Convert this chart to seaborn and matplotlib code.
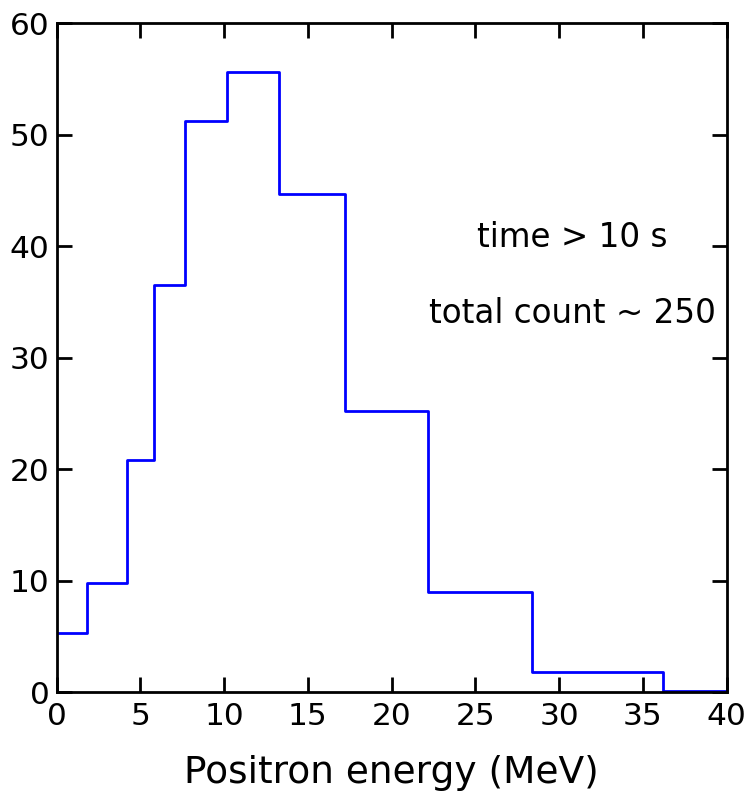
import matplotlib
matplotlib.use("Agg")
import matplotlib.pyplot as plt
import seaborn as sns
import numpy as np
import pandas as pd

# Data
bin_edges = [0.0, 1.79, 4.21, 5.83, 7.69, 10.15, 13.27, 17.21, 22.18, 28.38, 36.22, 40.0]
counts = [5.3, 9.8, 20.8, 36.5, 51.2, 55.6, 44.7, 25.2, 9.0, 1.8, 0.15]
annotations = ["time > 10 s", "total count ~ 250"]
x_label = "Positron energy (MeV)"
x_ticks = [0, 5, 10, 15, 20, 25, 30, 35, 40]
y_ticks = [0, 10, 20, 30, 40, 50, 60]

sns.set_style("ticks")
plt.rcParams['font.family'] = ['DejaVu Sans']
plt.rcParams['text.color'] = 'black'
plt.rcParams['axes.labelcolor'] = 'black'
plt.rcParams['xtick.color'] = 'black'
plt.rcParams['ytick.color'] = 'black'

centers = [(bin_edges[i] + bin_edges[i + 1]) / 2 for i in range(len(counts))]
df = pd.DataFrame({"energy": centers, "count": counts})

fig = plt.figure(figsize=(7.51, 7.99), dpi=100)
ax = fig.add_axes([0.0755, 0.1335, 0.892, 0.8375])

sns.histplot(data=df, x="energy", weights="count", bins=bin_edges,
             element="step", fill=False, color="#0000ff", linewidth=2.0, ax=ax)

ax.set_xlim(0, 40)
ax.set_ylim(0, 60)
ax.set_xticks(x_ticks)
ax.set_yticks(y_ticks)
ax.set_xlabel(x_label, fontsize=27, labelpad=17, color="black")
ax.set_ylabel("")

for s in ax.spines.values():
    s.set_visible(True)
    s.set_linewidth(2.0)
    s.set_color("black")

ax.tick_params(axis="both", which="major", direction="in", length=11, width=2,
               labelsize=22.5, top=True, right=True, color="black", labelcolor="black")
ax.tick_params(axis="x", pad=7)
ax.tick_params(axis="y", pad=5)

ax.text(30.8, 40.8, annotations[0], fontsize=23.5, ha="center", va="center", color="black")
ax.text(30.8, 34.0, annotations[1], fontsize=23.5, ha="center", va="center", color="black")

fig.savefig("out.png", dpi=100)
